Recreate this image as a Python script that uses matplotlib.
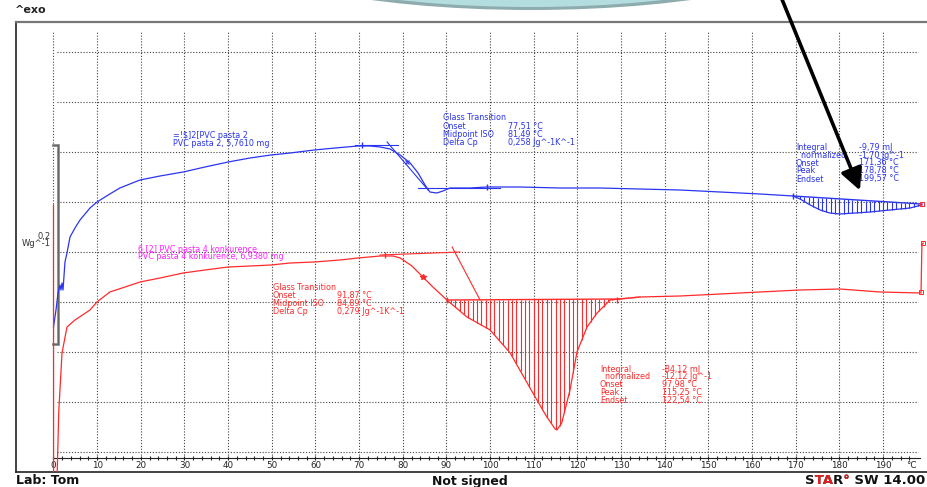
import numpy as np
import matplotlib
matplotlib.use("Agg")
import matplotlib.pyplot as plt
from matplotlib.patches import Ellipse, FancyArrowPatch
from matplotlib.transforms import Bbox

W, H = 928, 487

# ---- DSC curves: temperature (°C) and normalized heat flow (W/g, offset) ----
blue_T = [0.0, 0.57, 1.03, 1.49, 1.72, 1.95, 2.18, 2.63, 3.09, 3.78, 4.92, 6.07,
          8.36, 9.96, 12.9, 15.2, 19.8, 24.4, 29.7, 34.7, 40.0, 45.0, 49.8, 54.2,
          59.7, 64.5, 69.7, 72.5, 74.8, 77.1, 79.4, 81.7, 83.5, 85.1, 86.2, 87.8,
          89.2, 90.8, 95.4, 99.3, 106.8, 116.0, 125.2, 134.3, 143.5, 152.7, 161.8,
          169.4, 171.0, 173.3, 175.6, 177.8, 180.1, 183.6, 187.0, 191.6, 196.2, 198.9]
blue_v = [0.125, 0.142, 0.159, 0.167, 0.162, 0.169, 0.162, 0.190, 0.199, 0.215, 0.224, 0.232,
          0.244, 0.250, 0.258, 0.264, 0.272, 0.276, 0.280, 0.285, 0.290, 0.294, 0.297, 0.299,
          0.302, 0.304, 0.306, 0.306, 0.305, 0.303, 0.297, 0.289, 0.279, 0.267, 0.260, 0.259,
          0.261, 0.264, 0.264, 0.265, 0.265, 0.264, 0.264, 0.263, 0.262, 0.260, 0.258,
          0.256, 0.253, 0.247, 0.242, 0.239, 0.238, 0.239, 0.240, 0.242, 0.244, 0.247]

red_T = [0.0, 0.02, 0.75, 0.85, 1.2, 1.95, 3.09, 4.92, 8.36, 9.96, 12.9, 16.4,
         19.8, 24.4, 29.7, 34.7, 40.0, 45.0, 49.8, 54.2, 59.7, 65.6, 69.7, 74.8,
         77.8, 79.4, 82.1, 84.6, 86.9, 90.1, 94.7, 100.0, 104.6, 109.8, 113.0, 114.9,
         115.3, 116.4, 118.3, 119.9, 122.2, 124.5, 127.5, 129.7, 134.3, 143.5, 152.7,
         161.8, 170.9, 180.1, 189.3, 198.7, 198.9, 199.2]
red_v = [0.247, -0.05, -0.05, -0.02, 0.040, 0.099, 0.125, 0.132, 0.142, 0.150, 0.160, 0.165,
         0.170, 0.174, 0.179, 0.182, 0.185, 0.186, 0.187, 0.189, 0.190, 0.192, 0.194, 0.196,
         0.196, 0.194, 0.186, 0.175, 0.165, 0.152, 0.135, 0.122, 0.099, 0.059, 0.035, 0.023,
         0.022, 0.029, 0.062, 0.100, 0.125, 0.139, 0.152, 0.153, 0.155, 0.156, 0.158,
         0.160, 0.162, 0.163, 0.160, 0.159, 0.207, 0.209]

# integration limits / baselines of the evaluated peaks
blue_peak_T = [169.4, 198.9]
blue_peak_base = [0.256, 0.248]
red_peak_T = [90.1, 129.7]
red_peak_base = [0.152, 0.153]

# glass-transition tangents (T pairs, value pairs)
blue_tangents = [((69.1, 78.9), (0.307, 0.307)),
                 ((76.4, 85.8), (0.310, 0.262)),
                 ((83.5, 102.3), (0.264, 0.264))]
red_tangents = [((74.8, 93.1), (0.197, 0.200)),
                ((91.3, 97.7), (0.205, 0.152))]

x_ticks = list(range(0, 200, 10))
grid_levels = [0.0, 0.05, 0.10, 0.15, 0.20, 0.25, 0.30, 0.35, 0.40]

blue_label = ["=!$]2[PVC pasta 2", "PVC pasta 2, 5,7610 mg"]
red_label = ["6 [2] PVC pasta 4 konkurence", "PVC pasta 4 konkurence, 6,9380 mg"]
blue_gt = [("Glass Transition", ""), ("Onset", "77,51 °C"),
           ("Midpoint ISO", "81,49 °C"), ("Delta Cp", "0,258 Jg^-1K^-1")]
blue_int = [("Integral", "-9,79 mJ"), ("  normalized", "-1,70 Jg^-1"),
            ("Onset", "171,36 °C"), ("Peak", "178,78 °C"), ("Endset", "199,57 °C")]
red_gt = [("Glass Transition", ""), ("Onset", "91,87 °C"),
          ("Midpoint ISO", "84,89 °C"), ("Delta Cp", "0,279 Jg^-1K^-1")]
red_int = [("Integral", "-84,12 mJ"), ("  normalized", "-12,12 Jg^-1"),
           ("Onset", "97,98 °C"), ("Peak", "115,25 °C"), ("Endset", "122,54 °C")]

BLUE = "#2a35f0"
RED = "#ff2a2a"
MAGENTA = "#ff22ff"
GRID = "#444444"

# ---- figure / frame ----
fig = plt.figure(figsize=(W / 100, H / 100), dpi=100)
fig.patch.set_facecolor("white")
ax = fig.add_axes([16 / W, 15 / H, 912 / W, 450 / H])
ax.set_xlim((16 - 53.5) / 4.366, (928 - 53.5) / 4.366)
ax.set_ylim(-0.020, 0.430)
ax.set_xticks([])
ax.set_yticks([])
ax.spines["right"].set_visible(False)
ax.spines["top"].set_color("#777777")
ax.spines["top"].set_linewidth(1.6)
ax.spines["left"].set_color("#222222")
ax.spines["bottom"].set_color("#222222")
ax.spines["left"].set_linewidth(1.2)
ax.spines["bottom"].set_linewidth(1.2)

# dotted grid
dots = (0, (1, 1.6))
ax.vlines(x_ticks, -0.006, 0.420, colors=GRID, linestyles=dots, linewidth=0.8, zorder=1)
ax.hlines(grid_levels, 0.8, 198.0, colors=GRID, linestyles=dots, linewidth=0.8, zorder=1)

# temperature axis inside the frame
axis_y = -0.006
ax.plot([0, 198.5], [axis_y, axis_y], color="#222222", lw=0.8, zorder=2)
minor = np.arange(0, 198, 2)
ax.plot(minor, np.full(minor.shape, axis_y), ls="none", marker="|", ms=2.5,
        mew=0.8, color="#222222", zorder=2)
for t in x_ticks:
    ax.text(t, -0.0135, str(t), ha="center", va="center", fontsize=6.3, color="#222222")
ax.text(196.6, -0.0135, "°C", ha="center", va="center", fontsize=6.3, color="#222222")

# scale bar 0,2 W/g
sb_T = [-0.1, 1.05, 1.05, -0.1]
sb_v = [0.307, 0.307, 0.108, 0.108]
ax.plot(sb_T, sb_v, color="#8a8a8a", lw=2.0, solid_joinstyle="miter", zorder=2)
ax.plot(sb_T, sb_v, color="#555555", lw=0.5, zorder=2)

# ---- curves ----
ax.plot(blue_T, blue_v, color=BLUE, lw=0.9, zorder=4)
ax.plot(red_T, red_v, color=RED, lw=0.9, zorder=4)

# integration baselines and hatching
def hatch_peak(T, v, pT, pb, color):
    ax.plot(pT, pb, color=color, lw=1.0, zorder=4)
    ts = np.arange(np.ceil(pT[0]), pT[1], 1.0)
    yc = np.interp(ts, T, v)
    yb = np.interp(ts, pT, pb)
    ax.vlines(ts, yc, yb, colors=color, lw=0.8, zorder=3)

hatch_peak(blue_T, blue_v, blue_peak_T, blue_peak_base, BLUE)
hatch_peak(red_T, red_v, red_peak_T, red_peak_base, RED)
ax.plot([129.7, 134.3], [0.153, 0.155], color="#ff9090", lw=1.2, zorder=3)

for (tt, vv) in blue_tangents:
    ax.plot(tt, vv, color=BLUE, lw=0.8, zorder=4)
for (tt, vv) in red_tangents:
    ax.plot(tt, vv, color=RED, lw=0.8, zorder=4)

# evaluation markers
ax.plot([70.7, 99.3, 169.4], [0.307, 0.265, 0.256], ls="none", marker="|", ms=4,
        mew=1.0, color=BLUE, zorder=5)
ax.plot([80.9], [0.290], ls="none", marker="x", ms=2.5, mew=0.8, color=BLUE, zorder=5)
ax.plot([198.9], [0.248], ls="none", marker="s", ms=2.5, mfc="none", mew=0.8,
        color=RED, zorder=5)
ax.plot([75.9, 90.1, 129.1], [0.197, 0.152, 0.152], ls="none", marker="|", ms=4,
        mew=1.0, color=RED, zorder=5)
ax.plot([84.6], [0.175], ls="none", marker="*", ms=4, color=RED, zorder=5)
ax.plot([198.7, 199.2], [0.160, 0.209], ls="none", marker="s", ms=2.2, mfc="none",
        mew=0.7, color=RED, zorder=5)


# ---- text helpers in image pixel coordinates ----
def ftext(x, y, s, **kw):
    kw.setdefault("va", "center")
    kw.setdefault("ha", "left")
    return fig.text(x / W, 1 - y / H, s, parse_math=False, **kw)


def block(rows, x_label, x_value, y0, dy, color, size=5.8):
    for i, (lab, val) in enumerate(rows):
        y = y0 + i * dy
        ftext(x_label, y, lab, color=color, fontsize=size)
        if val:
            ftext(x_value, y, val, color=color, fontsize=size)


for i, s in enumerate(blue_label):
    ftext(173, 135 + 8 * i, s, color=BLUE, fontsize=5.8)
for i, s in enumerate(red_label):
    ftext(138, 249 + 7.5 * i, s, color=MAGENTA, fontsize=5.8)

block(blue_gt, 443, 508, 118, 8.3, BLUE)
block(blue_int, 796, 859, 147, 8.0, BLUE)
block(red_gt, 273, 337, 288, 7.8, RED)
block(red_int, 600, 662, 369, 7.8, RED)

ftext(51, 236, "0,2", ha="right", fontsize=6.0, color="#333333")
ftext(51, 244, "Wg^-1", ha="right", fontsize=6.0, color="#333333")

ftext(15, 10, "^exo", fontsize=8, fontweight="bold", color="#222222")
ftext(16, 481, "Lab: Tom", fontsize=9, fontweight="bold", color="#111111")
ftext(470, 481, "Not signed", ha="center", fontsize=9, fontweight="bold", color="#111111")

# software signature: black text, with a red copy clipped to "TA" and "°"
renderer = fig.canvas.get_renderer()
sig = "STAR° SW 14.00"
sig_style = dict(fontsize=9.5, fontweight="bold", ha="right")
ftext(925, 481, sig, color="#111111", **sig_style)
full_w = ftext(0, 481, sig, **sig_style)
full_box = full_w.get_window_extent(renderer)
full_w.remove()
x0 = 925 - full_box.width


def ink_width(s):
    t = ftext(0, 481, s, fontsize=9.5, fontweight="bold")
    w = t.get_window_extent(renderer).width
    t.remove()
    return w


for a, b in [("S", "STA"), ("STAR", "STAR°")]:
    left = x0 + ink_width(a) + 0.6
    right = x0 + ink_width(b) + 0.6
    red = ftext(925, 481, sig, color="#e02020", **sig_style)
    red.set_clip_box(Bbox.from_extents(left, 0, right, 40))
    red.set_clip_on(True)

# ---- callout shape and pointer arrow on top ----
fig.add_artist(Ellipse((531 / W, 1 + 60 / H), 620 / W, 140 / H,
                       transform=fig.transFigure, facecolor="#8eacae",
                       edgecolor="none", zorder=10))
fig.add_artist(Ellipse((531 / W, 1 + 64 / H), 610 / W, 142 / H,
                       transform=fig.transFigure, facecolor="#b4dde0",
                       edgecolor="none", zorder=11))
fig.add_artist(FancyArrowPatch((779 / W, 1 + 8 / H), (861 / W, 1 - 193 / H),
                               transform=fig.transFigure,
                               arrowstyle="-|>,head_length=1.1,head_width=0.55",
                               mutation_scale=12, lw=2.6, color="black", zorder=12))

fig.savefig("out.png", dpi=100, facecolor="white")
